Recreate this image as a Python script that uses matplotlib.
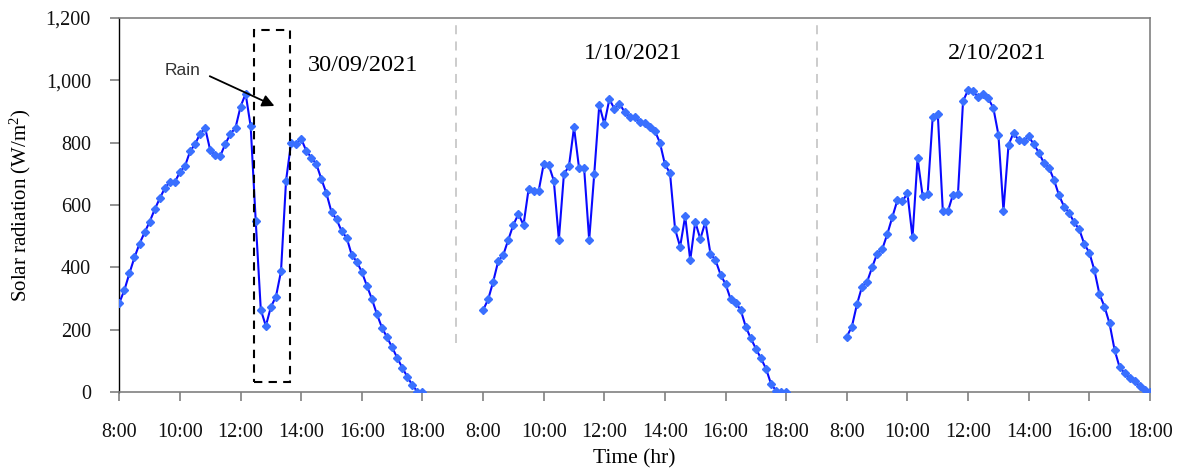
import numpy as np
import matplotlib
matplotlib.use("Agg")
import matplotlib.pyplot as plt
from matplotlib.patches import Rectangle

# solar radiation readings, every 10 minutes from 8:00 to 18:00 (W/m2)
day1 = [286, 327, 381, 432, 476, 512, 546, 586, 621, 654, 674, 674, 706, 725, 772, 796,
        829, 846, 775, 760, 758, 797, 828, 848, 916, 957, 852, 548, 264, 212, 273, 306,
        387, 678, 800, 796, 812, 774, 752, 731, 683, 637, 577, 554, 516, 495, 440, 418,
        385, 341, 298, 249, 206, 175, 143, 110, 78, 49, 22, 1, 0]
day2 = [263, 297, 354, 420, 440, 489, 537, 571, 536, 650, 645, 645, 732, 728, 678, 489,
        699, 725, 849, 718, 718, 488, 699, 921, 860, 940, 908, 925, 899, 883, 881, 867,
        862, 851, 838, 800, 730, 702, 523, 466, 564, 423, 546, 491, 546, 444, 423, 377,
        346, 298, 287, 263, 209, 172, 139, 108, 75, 26, 4, 0, 0]
day3 = [178, 210, 281, 338, 353, 400, 444, 458, 506, 561, 615, 613, 637, 496, 750, 630,
        636, 883, 892, 580, 580, 633, 636, 933, 969, 965, 946, 956, 942, 911, 826, 582,
        792, 832, 808, 805, 820, 795, 768, 735, 720, 681, 631, 595, 575, 544, 522, 475,
        447, 391, 314, 274, 220, 135, 79, 61, 45, 35, 18, 8, 0]
dates = ["30/09/2021", "1/10/2021", "2/10/2021"]
hour_labels = ["8:00", "10:00", "12:00", "14:00", "16:00", "18:00"]
y_ticks = [0, 200, 400, 600, 800, 1000, 1200]

serif = "Liberation Serif"
grey = "#808080"
plt.rcParams["mathtext.fontset"] = "custom"
plt.rcParams["mathtext.rm"] = serif
plt.rcParams["mathtext.it"] = serif + ":italic"

fig = plt.figure(figsize=(11.78, 4.75), dpi=100)
ax = fig.add_axes([0.1013, 0.1747, 0.8749, 0.7874])

# each day takes 10 hours on the axis, with a 2 hour gap between days
hrs = np.arange(len(day1)) / 6.0
for i, d in enumerate([day1, day2, day3]):
    ax.plot(hrs + 12 * i, d, color="#0a0aff", lw=1.5, marker="D", ms=3.6,
            mfc="#3a70ff", mec="#3a70ff", zorder=3)

# separators between days
for xs in [11.1, 23.0]:
    ax.plot([xs, xs], [157, 1200], color="#c8c8c8", lw=1.3, ls=(0, (5, 4)), zorder=1)

# day labels
ax.text(8.04, 1049, dates[0], family=serif, fontsize=17.5, ha="center", va="center")
ax.text(16.96, 1087, dates[1], family=serif, fontsize=17.5, ha="center", va="center")
ax.text(28.97, 1087, dates[2], family=serif, fontsize=17.5, ha="center", va="center")

# rain box
ax.add_patch(Rectangle((4.45, 32), 1.19, 1129, fill=False, ec="black", lw=1.5,
                       ls=(0, (4, 3)), zorder=4))
ax.annotate("", xy=(5.2, 914), xytext=(2.9, 1017),
            arrowprops=dict(arrowstyle="-|>", color="black", lw=1.3, mutation_scale=18))
ax.text(2.08, 1033, "Rain", family="Liberation Sans", fontsize=12.5, color="#333333",
        ha="center", va="center")

ax.set_xlim(0, 34)
ax.set_ylim(0, 1200)
ticks = [12 * i + 2 * k for i in range(3) for k in range(6)]
ax.set_xticks(ticks)
ax.set_xticklabels(hour_labels * 3)
ax.set_yticks(y_ticks)
ax.set_yticklabels([f"{v:,}" for v in y_ticks])

for lab in ax.get_xticklabels() + ax.get_yticklabels():
    lab.set_family(serif)
    lab.set_fontsize(14.5)
    lab.set_color("#111111")
ax.tick_params(axis="both", direction="out", length=6.5, width=1.2, color=grey)
ax.tick_params(axis="x", pad=16)
ax.tick_params(axis="y", pad=14)

for side in ["top", "right", "bottom"]:
    ax.spines[side].set_color(grey)
    ax.spines[side].set_linewidth(1.2)
ax.spines["left"].set_color("black")
ax.spines["left"].set_linewidth(1.0)

ax.set_xlabel("Time (hr)", family=serif, fontsize=15.5, labelpad=5)
ax.set_ylabel("Solar radiation (W/m$^2$)", family=serif, fontsize=15, labelpad=9)

fig.savefig("out.png", dpi=100)
